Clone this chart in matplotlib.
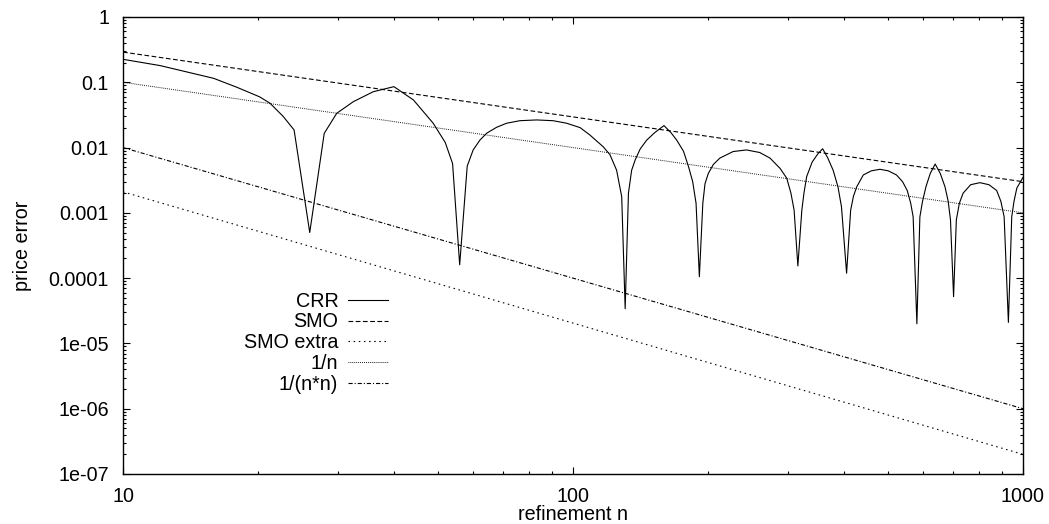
import matplotlib
matplotlib.use("Agg")
import matplotlib.pyplot as plt
from matplotlib.ticker import LogLocator, NullFormatter, FixedLocator, FixedFormatter

plt.rcParams['font.family'] = ['Liberation Sans', 'DejaVu Sans']
plt.rcParams['lines.scale_dashes'] = False

# ---------------- data ----------------
crr_n = [10, 12.1, 15.9, 17.9, 20.1, 21.2, 22.7, 24.0, 26.0, 28.0, 29.85, 32.5, 36.0, 40.0,
         44.2, 48.9, 52.0, 54.0, 56.0, 58.2, 60.0, 62.1, 64.3, 67.6, 71.2, 76.2, 83.0, 90.3,
         96.8, 103.7, 109, 116.7, 120.8, 125, 128.3, 130.6, 132.8, 135, 137.5, 141, 145.8,
         152, 159.3, 165, 170, 176, 180.6, 184.5, 187.7, 190.9, 194.3, 196.5, 199.8, 205,
         212, 227, 243, 260, 274, 288.5, 298.5, 305, 310, 316, 322.5, 326, 330.6, 340, 350,
         358.7, 368, 378.5, 388, 395, 405.5, 414, 420, 427, 441.6, 460, 481, 502, 523.6,
         540, 553, 563, 570, 581, 590, 598, 608.5, 622, 638, 655, 671, 682, 690, 701,
         711, 722, 736, 765, 802, 840, 874, 893, 908, 928, 944, 955, 969, 1000]
crr_err = [0.225, 0.18, 0.115, 0.084, 0.060, 0.048, 0.030, 0.0186, 0.0005, 0.0165, 0.0335, 0.0505, 0.0718, 0.0857,
           0.0536, 0.0236, 0.012, 0.0057, 0.00016, 0.0052, 0.0092, 0.013, 0.0166, 0.0204, 0.0236, 0.0258, 0.0265, 0.0258,
           0.0236, 0.0202, 0.0156, 0.0103, 0.0078, 0.0045, 0.00177, 3.4e-5, 0.002, 0.0045, 0.0065, 0.0095, 0.013,
           0.017, 0.0217, 0.017, 0.013, 0.0088, 0.0051, 0.003, 0.0014, 0.000105, 0.0014, 0.0028, 0.0040, 0.0055,
           0.0069, 0.0087, 0.0092, 0.0084, 0.0069, 0.0048, 0.0034, 0.002, 0.0011, 0.000154, 0.0011, 0.002, 0.0036, 0.006, 0.008,
           0.0096, 0.007, 0.0045, 0.0025, 0.00124, 0.000119, 0.0011, 0.0018, 0.0025, 0.0038, 0.0044, 0.00465, 0.0044, 0.0038,
           0.003, 0.0022, 0.0014, 0.00087, 2.0e-5, 0.00087, 0.0015, 0.0025, 0.004, 0.0056, 0.004, 0.0025, 0.0015, 0.00078, 5.2e-5,
           0.00078, 0.0014, 0.002, 0.0027, 0.0029, 0.0027, 0.0022, 0.0015, 0.00087, 2.1e-5, 0.00087, 0.0015, 0.0024, 0.0035]

ref_n = [10, 1000]
smo_err = [0.29, 0.0030]
smo_extra_err = [0.0021, 2.0e-7]
inv_n = [0.1, 0.001]
inv_n2 = [0.01, 1e-6]

labels = ["CRR", "SMO", "SMO extra", "1/n", "1/(n*n)"]
xticks = [10, 100, 1000]
xtick_labels = ["10", "100", "1000"]
yticks = [1e-7, 1e-6, 1e-5, 1e-4, 1e-3, 1e-2, 1e-1, 1]
ytick_labels = ["1e-07", "1e-06", "1e-05", "0.0001", "0.001", "0.01", "0.1", "1"]

# ---------------- figure ----------------
fig = plt.figure(figsize=(10.49, 5.24), dpi=100)
ax = fig.add_axes([123 / 1049, 1 - 474 / 524, 900 / 1049, 457 / 524])

lw = 0.8
ax.plot(crr_n, crr_err, color='black', lw=lw, label=labels[0])
ax.plot(ref_n, smo_err, color='black', lw=lw, dashes=(3.4, 1.8), label=labels[1])
ax.plot(ref_n, smo_extra_err, color='black', lw=lw, dashes=(1.1, 2.6), label=labels[2])
ax.plot(ref_n, inv_n, color='black', lw=0.7, dashes=(0.6, 0.8), label=labels[3])
ax.plot(ref_n, inv_n2, color='black', lw=lw, dashes=(3.0, 1.4, 0.8, 1.4), label=labels[4])

ax.set_xscale('log')
ax.set_yscale('log')
ax.set_xlim(10, 1000)
ax.set_ylim(1e-7, 1)

fs = 14.2
ax.xaxis.set_major_locator(FixedLocator(xticks))
ax.xaxis.set_major_formatter(FixedFormatter(xtick_labels))
ax.yaxis.set_major_locator(FixedLocator(yticks))
ax.yaxis.set_major_formatter(FixedFormatter(ytick_labels))
ax.xaxis.set_minor_locator(LogLocator(base=10, subs=range(2, 10), numticks=20))
ax.yaxis.set_minor_locator(LogLocator(base=10, subs=range(2, 10), numticks=20))
ax.xaxis.set_minor_formatter(NullFormatter())
ax.yaxis.set_minor_formatter(NullFormatter())

ax.tick_params(which='both', direction='in', top=True, right=True, labelsize=fs, width=0.8)
ax.tick_params(which='major', length=5)
ax.tick_params(which='minor', length=2.5)
ax.tick_params(axis='y', which='major', pad=10)
ax.tick_params(axis='x', which='major', pad=9)
for s in ax.spines.values():
    s.set_linewidth(1.0)

ax.set_xlabel("refinement n", fontsize=fs, labelpad=0)
ax.set_ylabel("price error", fontsize=fs, labelpad=12)

leg = ax.legend(loc='upper right', bbox_to_anchor=(0.294, 0.399), frameon=False,
                markerfirst=False, fontsize=fs, handlelength=2.0, handletextpad=0.5,
                labelspacing=0.09, borderpad=0, borderaxespad=0)

fig.savefig("out.png", dpi=100)
